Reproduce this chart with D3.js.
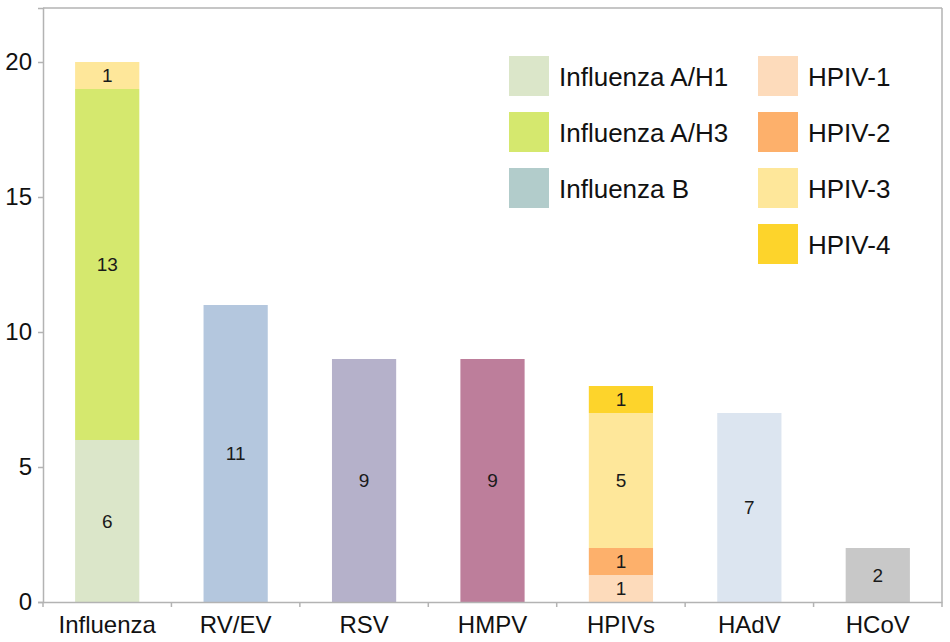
<!DOCTYPE html>
<html>
<head>
<meta charset="utf-8">
<script src="https://cdn.jsdelivr.net/npm/d3@7"></script>
<style>
  body { margin: 0; background: #fff; }
  text { font-family: "Liberation Sans", Arial, sans-serif; }
</style>
</head>
<body>
<svg id="chart" width="950" height="642"></svg>
<script>
// data
const categories = ['Influenza', 'RV/EV', 'RSV', 'HMPV', 'HPIVs', 'HAdV', 'HCoV'];
const seriesKeys = ['Influenza A/H1', 'Influenza A/H3', 'Influenza B',
  'HPIV-1', 'HPIV-2', 'HPIV-3', 'HPIV-4', 'RV/EV', 'RSV', 'HMPV', 'HAdV', 'HCoV'];
const fluH1  = [6, 0, 0, 0, 0, 0, 0];
const fluH3  = [13, 0, 0, 0, 0, 0, 0];
const fluB   = [1, 0, 0, 0, 0, 0, 0];
const hpiv1  = [0, 0, 0, 0, 1, 0, 0];
const hpiv2  = [0, 0, 0, 0, 1, 0, 0];
const hpiv3  = [0, 0, 0, 0, 5, 0, 0];
const hpiv4  = [0, 0, 0, 0, 1, 0, 0];
const rvev   = [0, 11, 0, 0, 0, 0, 0];
const rsv    = [0, 0, 9, 0, 0, 0, 0];
const hmpv   = [0, 0, 0, 9, 0, 0, 0];
const hadv   = [0, 0, 0, 0, 0, 7, 0];
const hcov   = [0, 0, 0, 0, 0, 0, 2];
const yTicks = [0, 5, 10, 15, 20];
const legendCol1 = ['Influenza A/H1', 'Influenza A/H3', 'Influenza B'];
const legendCol2 = ['HPIV-1', 'HPIV-2', 'HPIV-3', 'HPIV-4'];

const seriesValues = [fluH1, fluH3, fluB, hpiv1, hpiv2, hpiv3, hpiv4, rvev, rsv, hmpv, hadv, hcov];

const colors = {
  'Influenza A/H1': '#dbe6c9',
  'Influenza A/H3': '#d5e86e',
  'Influenza B': '#b2cccb',
  'HPIV-1': '#fddbbb',
  'HPIV-2': '#fdb06b',
  'HPIV-3': '#fee79a',
  'HPIV-4': '#fdd42b',
  'RV/EV': '#b4c7de',
  'RSV': '#b5b1ca',
  'HMPV': '#bd7e9b',
  'HAdV': '#dce5f0',
  'HCoV': '#c8c8c8'
};
// in the original the Influenza B segment is painted the HPIV-3 yellow
const barFill = Object.assign({}, colors, { 'Influenza B': '#fee79a' });

const width = 950, height = 642;
const margin = { top: 8, right: 8, bottom: 40, left: 43 };

const table = categories.map((c, i) => {
  const row = { category: c };
  seriesKeys.forEach((k, j) => { row[k] = seriesValues[j][i]; });
  return row;
});
const stacked = d3.stack().keys(seriesKeys)(table);

const svg = d3.select('#chart');

const x = d3.scaleBand()
  .domain(categories)
  .range([margin.left, width - margin.right])
  .paddingInner(0.5)
  .paddingOuter(0.25);

const y = d3.scaleLinear()
  .domain([0, 22])
  .range([height - margin.bottom, margin.top]);

const gridColor = '#b3b3b3';

// frame top & right
svg.append('line')
  .attr('x1', margin.left).attr('x2', width - margin.right)
  .attr('y1', y(22)).attr('y2', y(22))
  .attr('stroke', gridColor).attr('stroke-width', 1.5);
svg.append('line')
  .attr('x1', width - margin.right).attr('x2', width - margin.right)
  .attr('y1', y(22)).attr('y2', y(0))
  .attr('stroke', gridColor).attr('stroke-width', 1.5);

// bars
const layer = svg.append('g').selectAll('g')
  .data(stacked)
  .join('g')
  .attr('fill', d => barFill[d.key]);

layer.selectAll('rect')
  .data(d => d.filter(s => s[1] - s[0] > 0))
  .join('rect')
  .attr('x', d => x(d.data.category))
  .attr('width', x.bandwidth())
  .attr('y', d => y(d[1]))
  .attr('height', d => y(d[0]) - y(d[1]));

layer.selectAll('text')
  .data(d => d.filter(s => s[1] - s[0] > 0))
  .join('text')
  .attr('x', d => x(d.data.category) + x.bandwidth() / 2)
  .attr('y', d => (y(d[0]) + y(d[1])) / 2)
  .attr('dy', '0.36em')
  .attr('text-anchor', 'middle')
  .attr('fill', '#1a1a1a')
  .attr('font-size', 19)
  .text(d => d[1] - d[0]);

// y axis
const yAxis = d3.axisLeft(y).tickValues(yTicks).tickSize(5).tickPadding(6);
const gy = svg.append('g')
  .attr('transform', `translate(${margin.left},0)`)
  .call(yAxis);
gy.select('.domain').attr('stroke', gridColor).attr('stroke-width', 1.5);
gy.selectAll('.tick line').attr('stroke', gridColor).attr('stroke-width', 1.5);
gy.selectAll('.tick text')
  .attr('font-size', 24)
  .attr('font-family', '"Liberation Sans", Arial, sans-serif')
  .attr('fill', '#111');

// x axis: ticks at category boundaries
const xAxis = d3.axisBottom(x).tickSize(0).tickPadding(14);
const gx = svg.append('g')
  .attr('transform', `translate(0,${height - margin.bottom})`)
  .call(xAxis);
gx.select('.domain').attr('stroke', gridColor).attr('stroke-width', 1.5);
gx.selectAll('.tick text')
  .attr('font-size', 24)
  .attr('font-family', '"Liberation Sans", Arial, sans-serif')
  .attr('fill', '#111');

const bounds = categories.map(c => x(c) - x.step() * x.paddingOuter());
bounds.push(width - margin.right);
gx.selectAll('.bound')
  .data(bounds)
  .join('line')
  .attr('class', 'bound')
  .attr('x1', d => d).attr('x2', d => d)
  .attr('y1', 0).attr('y2', 5)
  .attr('stroke', gridColor).attr('stroke-width', 1.5);

// legend
function legendColumn(names, lx, ly) {
  const g = svg.append('g').attr('transform', `translate(${lx},${ly})`);
  const item = g.selectAll('g')
    .data(names)
    .join('g')
    .attr('transform', (d, i) => `translate(0,${i * 56})`);
  item.append('rect')
    .attr('width', 40).attr('height', 40)
    .attr('fill', d => colors[d]);
  item.append('text')
    .attr('x', 50).attr('y', 30)
    .attr('font-size', 26)
    .attr('fill', '#111')
    .text(d => d);
}
legendColumn(legendCol1, 509, 56);
legendColumn(legendCol2, 758, 56);
</script>
</body>
</html>
